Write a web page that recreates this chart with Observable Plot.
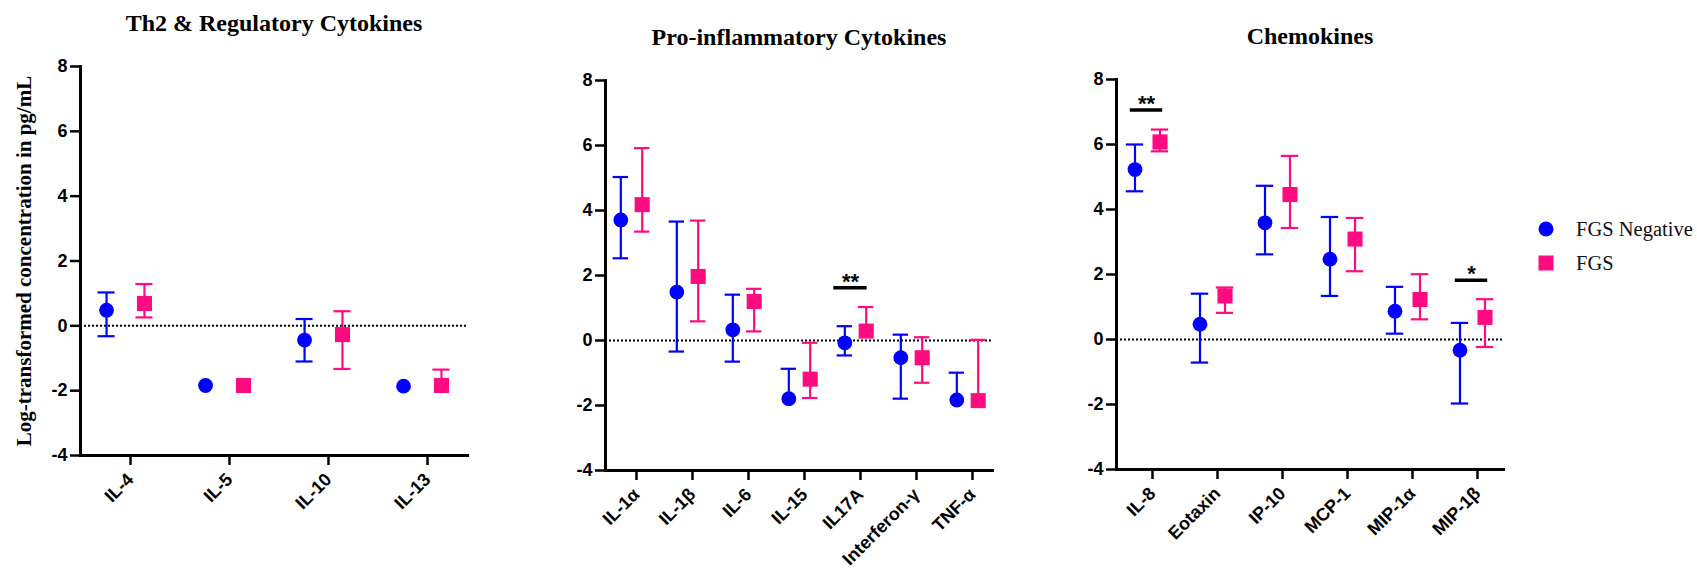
<!DOCTYPE html>
<html><head><meta charset="utf-8">
<script src="https://cdn.jsdelivr.net/npm/d3@7"></script>
<script src="https://cdn.jsdelivr.net/npm/@observablehq/plot@0.6"></script>
<style>
body{margin:0;background:#fff;}
#wrap{position:relative;width:1697px;height:570px;overflow:hidden;background:#fff}
.panel{position:absolute;top:0}
.lg{position:absolute;left:1538px;height:34px;display:flex;align-items:center;font-family:"Liberation Serif","Times New Roman",serif;font-size:20.5px;color:#111;white-space:nowrap}
.lg svg{margin-right:22px;display:block}
</style></head><body>
<div id="wrap"></div>
<script>
// ---- data ----
const seriesNames = ["FGS Negative", "FGS"];
const seriesColors = ["#0000ff", "#ff0a80"];
const seriesSymbols = ["circle", "square"];
const yTicks = [-4, -2, 0, 2, 4, 6, 8];
const yLabel = "Log-transformed concentration in pg/mL";

const th2Title = "Th2 & Regulatory Cytokines";
const th2Cats = ["IL-4", "IL-5", "IL-10", "IL-13"];
const th2NegMean = [0.48, -1.84, -0.44, -1.86];
const th2NegLow  = [-0.32, -1.84, -1.10, -1.86];
const th2NegHigh = [1.03, -1.84, 0.21, -1.86];
const th2PosMean = [0.69, -1.84, -0.27, -1.84];
const th2PosLow  = [0.26, -1.84, -1.33, -1.84];
const th2PosHigh = [1.29, -1.84, 0.45, -1.35];
const th2SigCats = [], th2SigY = [], th2SigLabels = [];

const proTitle = "Pro-inflammatory Cytokines";
const proCats = ["IL-1α", "IL-1β", "IL-6", "IL-15", "IL17A", "Interferon-γ", "TNF-α"];
const proNegMean = [3.71, 1.49, 0.33, -1.79, -0.07, -0.53, -1.83];
const proNegLow  = [2.53, -0.34, -0.65, -1.79, -0.46, -1.79, -1.83];
const proNegHigh = [5.03, 3.66, 1.41, -0.87, 0.44, 0.18, -0.99];
const proPosMean = [4.18, 1.97, 1.20, -1.19, 0.29, -0.53, -1.85];
const proPosLow  = [3.35, 0.59, 0.28, -1.77, 0.29, -1.30, -1.85];
const proPosHigh = [5.92, 3.69, 1.59, -0.07, 1.03, 0.10, 0.02];
const proSigCats = ["IL17A"], proSigY = [1.62], proSigLabels = ["**"];

const chemTitle = "Chemokines";
const chemCats = ["IL-8", "Eotaxin", "IP-10", "MCP-1", "MIP-1α", "MIP-1β"];
const chemNegMean = [5.23, 0.47, 3.59, 2.47, 0.87, -0.33];
const chemNegLow  = [4.56, -0.71, 2.62, 1.34, 0.18, -1.97];
const chemNegHigh = [6.00, 1.41, 4.73, 3.77, 1.62, 0.51];
const chemPosMean = [6.08, 1.34, 4.46, 3.09, 1.23, 0.68];
const chemPosLow  = [5.79, 0.82, 3.43, 2.10, 0.62, -0.23];
const chemPosHigh = [6.46, 1.60, 5.65, 3.74, 2.01, 1.24];
const chemSigCats = ["IL-8", "MIP-1β"], chemSigY = [7.06, 1.82], chemSigLabels = ["**", "*"];

// ---- drawing ----
const serif = "'Liberation Serif','Times New Roman',serif";
const sans = "'Liberation Sans',Arial,sans-serif";

function makePanel(cfg) {
  const plotW = 387, mL = 80, mR = 25;
  const width = mL + plotW + mR;
  const height = 570;
  const mB = height - cfg.bottom;
  const pInner = 0.9, pOuter = 0.39;
  const step = plotW / (cfg.cats.length - pInner + 2 * pOuter);
  const bw = step * (1 - pInner);
  const off = 0.19 * step;
  const capInset = bw / 2 - cfg.cap;
  const sigInset = bw / 2 - 16.5;
  const groups = [
    cfg.cats.map((c, i) => ({cat: c, mean: cfg.neg[0][i], low: cfg.neg[1][i], high: cfg.neg[2][i]})),
    cfg.cats.map((c, i) => ({cat: c, mean: cfg.pos[0][i], low: cfg.pos[1][i], high: cfg.pos[2][i]}))
  ];
  const sig = cfg.sig[0].map((c, i) => ({cat: c, y: cfg.sig[1][i], label: cfg.sig[2][i]}));
  const marks = [
    Plot.ruleY([0], {stroke: "#000", strokeWidth: 2, strokeDasharray: "2,2"})
  ];
  groups.forEach((rows, s) => {
    const dx = s === 0 ? -off : off;
    const col = seriesColors[s];
    marks.push(Plot.ruleX(rows.filter(d => d.high > d.low), {x: "cat", y1: "low", y2: "high", stroke: col, strokeWidth: 2.2, dx}));
    marks.push(Plot.tickY(rows.filter(d => d.high > d.mean), {x: "cat", y: "high", stroke: col, strokeWidth: 2.2, dx, insetLeft: capInset, insetRight: capInset}));
    marks.push(Plot.tickY(rows.filter(d => d.low < d.mean), {x: "cat", y: "low", stroke: col, strokeWidth: 2.2, dx, insetLeft: capInset, insetRight: capInset}));
    marks.push(Plot.dot(rows, {x: "cat", y: "mean", symbol: seriesSymbols[s], fill: col, r: s === 0 ? 7.4 : 8.5, dx}));
  });
  marks.push(Plot.tickY(sig, {x: "cat", y: "y", stroke: "#000", strokeWidth: 3.5, dx: cfg.sigShift, insetLeft: sigInset, insetRight: sigInset}));
  marks.push(Plot.text(sig, {x: "cat", y: "y", text: "label", dx: cfg.sigShift, dy: -6, fontSize: 22, fill: "#000", lineAnchor: "middle"}));
  marks.push(Plot.axisY({ticks: yTicks, tickFormat: d => String(d), tickSize: 10, tickPadding: 3, fontSize: 18, strokeWidth: 2.5, label: null}));
  marks.push(Plot.axisX({tickSize: 10, tickPadding: 11, tickRotate: -45, fontSize: 18, strokeWidth: 2.5, label: null, dx: 5}));
  marks.push(Plot.frame({anchor: "left", stroke: "#000", strokeWidth: 3}));
  marks.push(Plot.frame({anchor: "bottom", stroke: "#000", strokeWidth: 3}));
  marks.push(Plot.text([cfg.title], {frameAnchor: "top", dy: -43, fontSize: 24, fontFamily: serif, fill: "#000", lineAnchor: "middle"}));
  if (cfg.yLabel) {
    marks.push(Plot.text([cfg.yLabel], {frameAnchor: "left", rotate: -90, dx: -56, fontSize: 21, fontFamily: serif, fill: "#000", textAnchor: "middle", lineAnchor: "middle"}));
  }
  const svg = Plot.plot({
    width, height,
    marginLeft: mL, marginRight: mR, marginTop: cfg.top, marginBottom: mB,
    x: {type: "band", domain: cfg.cats, paddingInner: pInner, paddingOuter: pOuter},
    y: {domain: [-4, 8]},
    style: {fontFamily: sans, fontWeight: "bold", color: "#000", background: "transparent", overflow: "visible", maxWidth: "none"},
    marks
  });
  const div = document.createElement("div");
  div.className = "panel";
  div.style.left = cfg.left + "px";
  div.style.width = width + "px";
  div.appendChild(svg);
  document.getElementById("wrap").appendChild(div);
}

makePanel({title: th2Title, cats: th2Cats, neg: [th2NegMean, th2NegLow, th2NegHigh], pos: [th2PosMean, th2PosLow, th2PosHigh],
  sig: [th2SigCats, th2SigY, th2SigLabels], left: 0, top: 66, bottom: 455, cap: 8.5, sigShift: 0, yLabel});
makePanel({title: proTitle, cats: proCats, neg: [proNegMean, proNegLow, proNegHigh], pos: [proPosMean, proPosLow, proPosHigh],
  sig: [proSigCats, proSigY, proSigLabels], left: 525, top: 80, bottom: 470, cap: 7.5, sigShift: -5});
makePanel({title: chemTitle, cats: chemCats, neg: [chemNegMean, chemNegLow, chemNegHigh], pos: [chemPosMean, chemPosLow, chemPosHigh],
  sig: [chemSigCats, chemSigY, chemSigLabels], left: 1036, top: 79, bottom: 469, cap: 9, sigShift: -1});

// legend
const legendCenters = [229, 263];
seriesNames.forEach((name, s) => {
  const row = document.createElement("div");
  row.className = "lg";
  row.style.top = (legendCenters[s] - 17) + "px";
  const sym = s === 0
    ? `<svg width="16" height="16"><circle cx="8" cy="8" r="7.5" fill="${seriesColors[s]}"/></svg>`
    : `<svg width="16" height="16"><rect x="0.5" y="0.5" width="15" height="15" fill="${seriesColors[s]}"/></svg>`;
  row.innerHTML = sym + `<span>${name}</span>`;
  document.getElementById("wrap").appendChild(row);
});
</script>
</body></html>
